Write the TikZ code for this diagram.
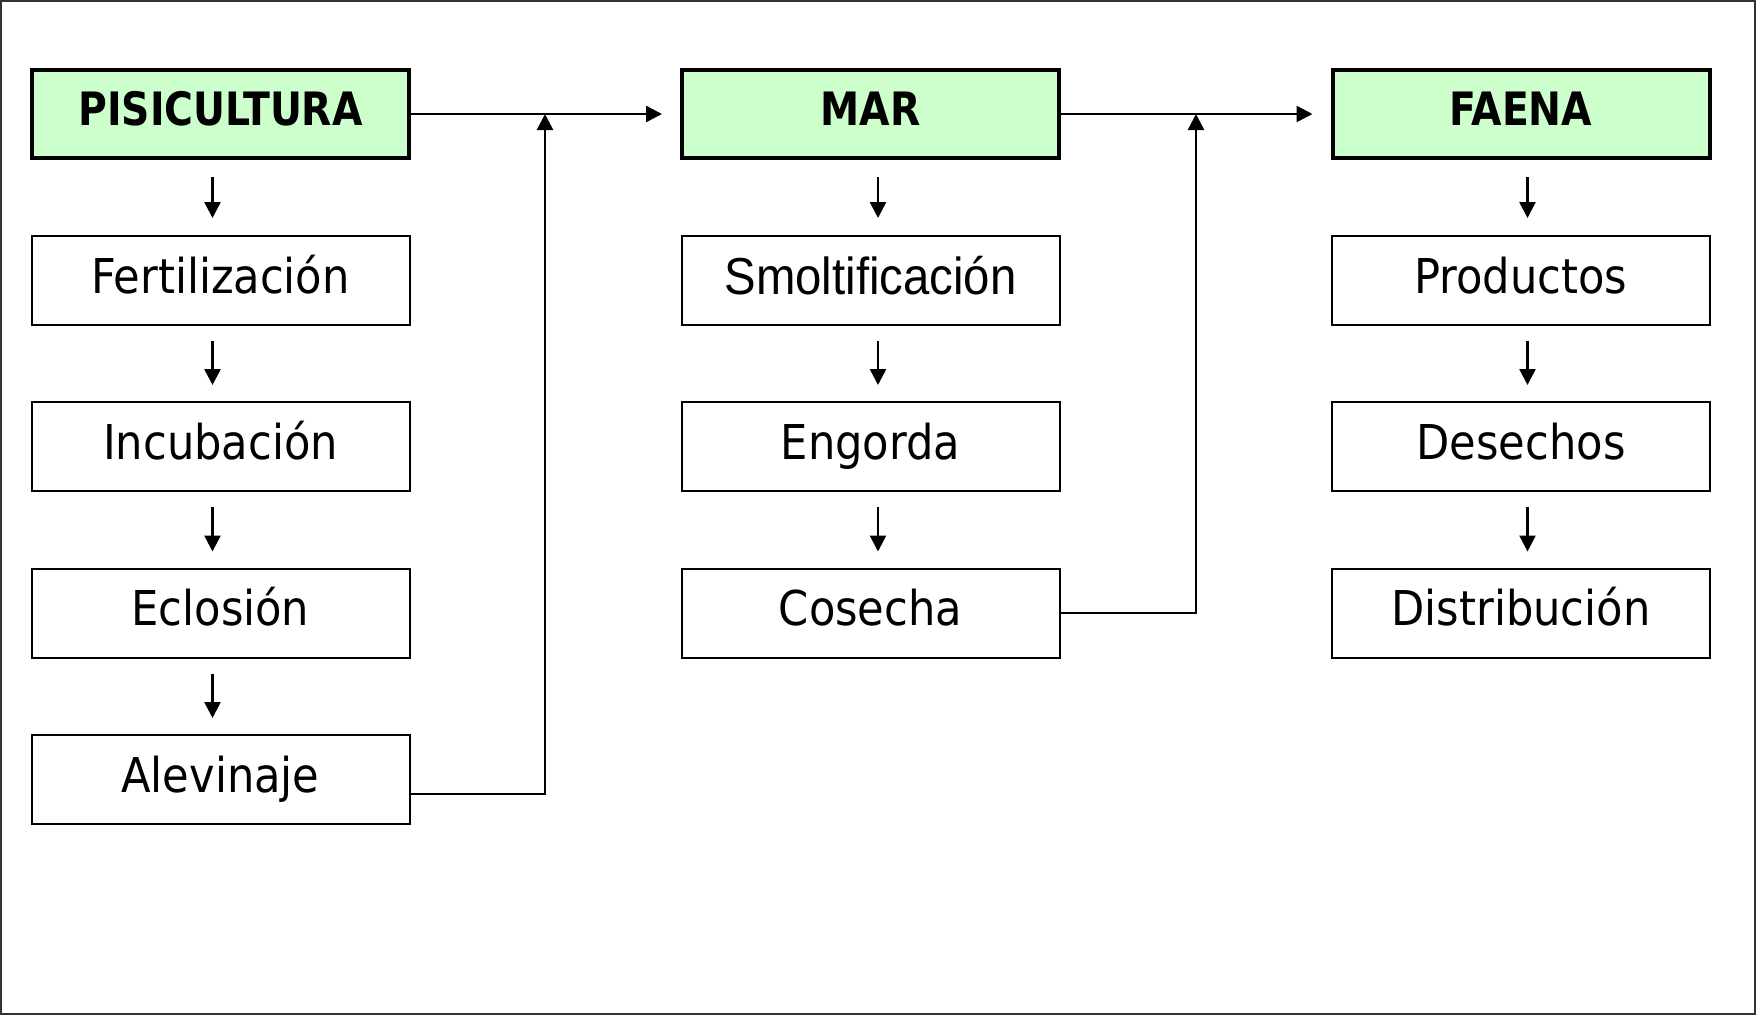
\documentclass[tikz,border=0pt]{standalone}
\usepackage{fontspec}
\setmainfont{DejaVu Sans Condensed}
\newfontfamily\arialf[FakeStretch=0.91]{Liberation Sans}
\newfontfamily\hdrf[FakeStretch=0.95]{DejaVu Sans Condensed Bold}
\usetikzlibrary{arrows.meta}
\definecolor{hdrgreen}{HTML}{CCFFCC}
\definecolor{framegray}{HTML}{333333}
\begin{document}
\begin{tikzpicture}[x=1pt,y=-1pt,
  box/.style={draw=black,line width=2pt,minimum width=378pt,minimum height=89pt,
    inner sep=0pt,text height=25pt,text depth=0pt,font=\fontsize{48}{52}\selectfont},
  hdr/.style={box,fill=hdrgreen,line width=4pt,minimum width=377pt,minimum height=88pt,
    text height=22pt,font=\fontsize{46}{50}\selectfont\hdrf},
  arr/.style={line width=2.5pt,-{Triangle[length=16pt,width=16pt]}},
  ln/.style={line width=2.5pt}]
\useasboundingbox (0,0) rectangle (1756,1015);
\draw[line width=2pt,draw=framegray] (1,1) rectangle (1755,1014);

% headers
\node[hdr] (pis) at (220.5,114) {PISICULTURA};
\node[hdr] (mar) at (870.5,114) {MAR};
\node[hdr] (fae) at (1521,114) {FAENA};

% column 1
\node[box] (fer) at (220.5,280.5) {Fertilización};
\node[box] (inc) at (220.5,446.5) {Incubación};
\node[box] (ecl) at (220.5,613) {Eclosión};
\node[box] (ale) at (220.5,779.5) {Alevinaje};

% column 2
\node[box,text height=28pt] (smo) at (870.5,280.5) {\fontsize{52}{56}\selectfont\arialf Smoltificación};
\node[box] (eng) at (870.5,446.5) {Engorda};
\node[box] (cos) at (870.5,613) {Cosecha};

% column 3
\node[box] (pro) at (1521,280.5) {Productos};
\node[box] (des) at (1521,446.5) {Desechos};
\node[box] (dis) at (1521,613) {Distribución};

% small down arrows
\draw[arr] ([xshift=-8pt,yshift=-17pt]pis.south) -- ([xshift=-8pt,yshift=17pt]fer.north);
\draw[arr] ([xshift=-8pt,yshift=-15pt]fer.south) -- ([xshift=-8pt,yshift=16pt]inc.north);
\draw[arr] ([xshift=-8pt,yshift=-15pt]inc.south) -- ([xshift=-8pt,yshift=16pt]ecl.north);
\draw[arr] ([xshift=-8pt,yshift=-15pt]ecl.south) -- ([xshift=-8pt,yshift=16pt]ale.north);

\draw[arr] ([xshift=7.5pt,yshift=-17pt]mar.south) -- ([xshift=7.5pt,yshift=17pt]smo.north);
\draw[arr] ([xshift=7.5pt,yshift=-15pt]smo.south) -- ([xshift=7.5pt,yshift=16pt]eng.north);
\draw[arr] ([xshift=7.5pt,yshift=-15pt]eng.south) -- ([xshift=7.5pt,yshift=16pt]cos.north);

\draw[arr] ([xshift=6.5pt,yshift=-17pt]fae.south) -- ([xshift=6.5pt,yshift=17pt]pro.north);
\draw[arr] ([xshift=6.5pt,yshift=-15pt]pro.south) -- ([xshift=6.5pt,yshift=16pt]des.north);
\draw[arr] ([xshift=6.5pt,yshift=-15pt]des.south) -- ([xshift=6.5pt,yshift=16pt]dis.north);

% main flow
\draw[arr] (pis.east) -- ([xshift=-18pt]mar.west);
\draw[arr] (mar.east) -- ([xshift=-18pt]fae.west);

\coordinate (j1) at (545,114);
\coordinate (j2) at (1196,114);
\draw[arr] ([yshift=-14.5pt]ale.east) -| (j1);
\draw[arr] (cos.east) -| (j2);
\end{tikzpicture}
\end{document}
